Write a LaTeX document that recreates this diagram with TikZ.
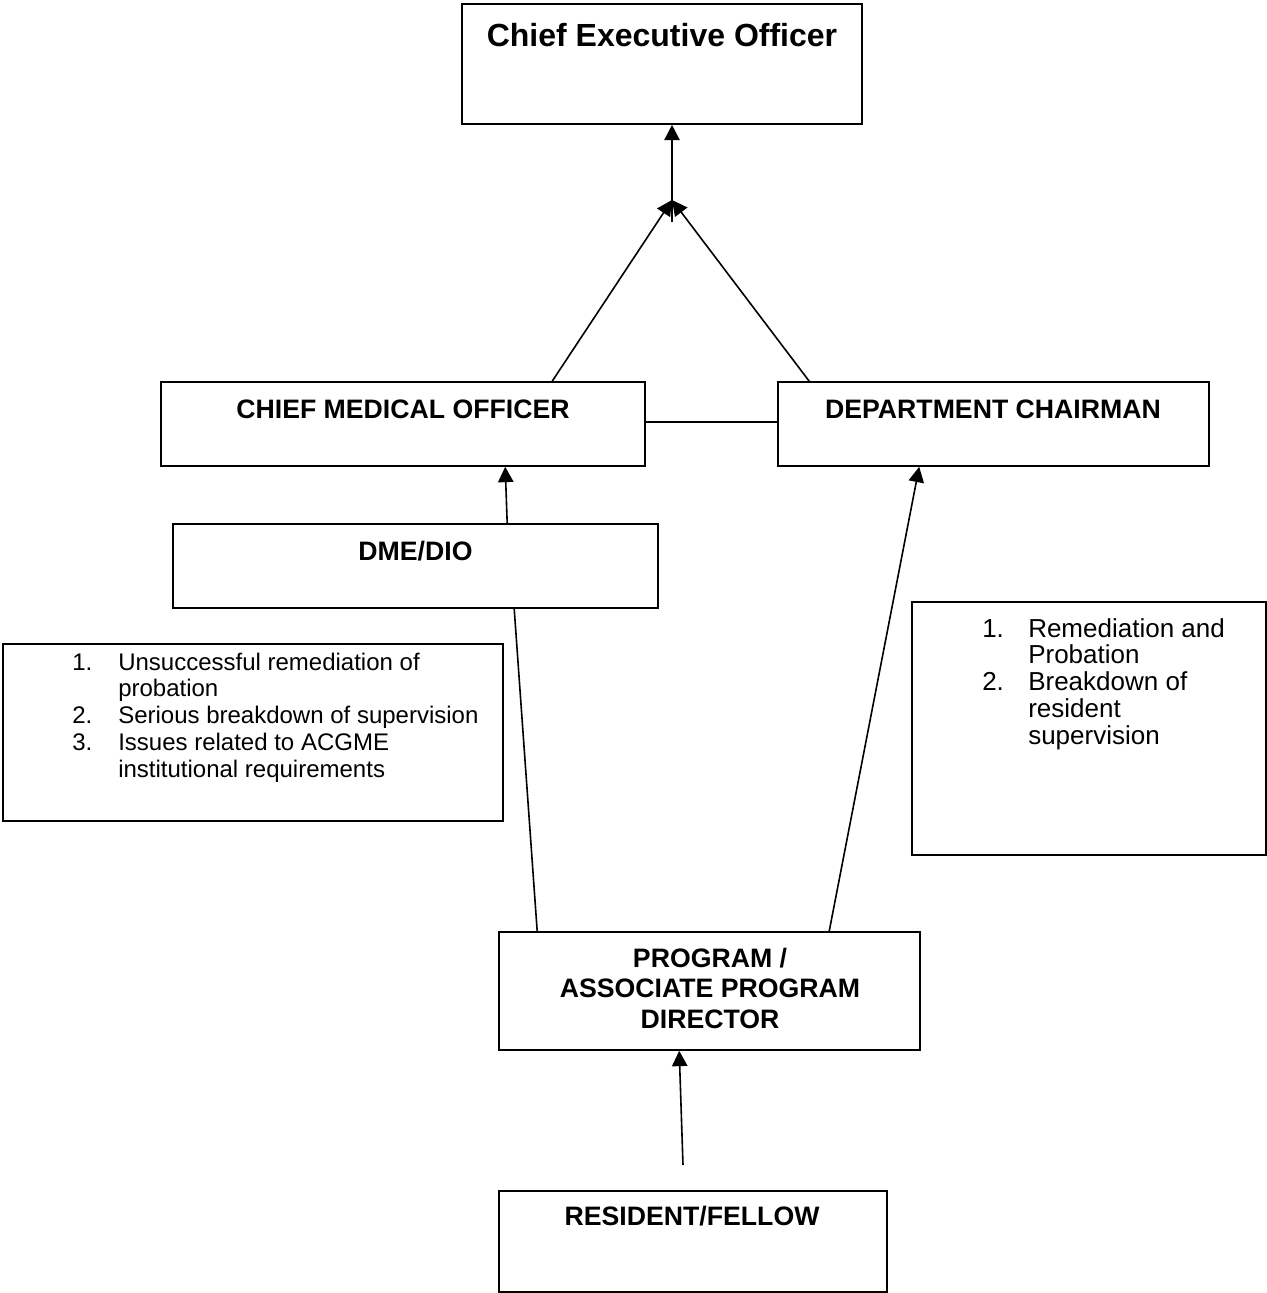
\documentclass[tikz,border=0pt]{standalone}
\usepackage{fontspec}
\setmainfont{Liberation Sans}
\usetikzlibrary{arrows.meta,calc}
\tikzset{
  box/.style={draw, line width=1.2pt, rectangle, inner sep=0pt, fill=white},
  lbl/.style={anchor=base, inner sep=0pt, font=\fontsize{20}{22}\selectfont\bfseries},
  conn/.style={line width=1.2pt},
  arr/.style={line width=1.2pt, -{Triangle[length=11.5pt,width=11.5pt]}},
  listtxt/.style={anchor=base west, inner sep=0pt, align=left}
}
\begin{document}
\begin{tikzpicture}[x=0.75pt,y=-0.75pt]
\useasboundingbox (0,0) rectangle (1267,1293);
% boxes
\node[box, minimum width=300pt, minimum height=90pt] (ceo) at (662,64) {};
\node[box, minimum width=363pt, minimum height=63pt] (cmo) at (403,424) {};
\node[box, minimum width=323.25pt, minimum height=63pt] (dc) at (993.5,424) {};
\node[box, minimum width=363.75pt, minimum height=63pt] (dme) at (415.5,566) {};
\node[box, minimum width=375pt, minimum height=132.75pt] (lst) at (253,732.5) {};
\node[box, minimum width=265.5pt, minimum height=189.75pt] (rst) at (1089,728.5) {};
\node[box, minimum width=315.75pt, minimum height=88.5pt] (pd) at (709.5,991) {};
\node[box, minimum width=291pt, minimum height=75.75pt] (rf) at (693,1241.5) {};
% labels
\node[lbl, font=\fontsize{24}{28}\selectfont\bfseries] (ceot) at (662,46) {Chief Executive Officer};
\node[lbl] (cmot) at (403,418) {CHIEF MEDICAL OFFICER};
\node[lbl] (dct) at (993,418) {DEPARTMENT CHAIRMAN};
\node[lbl] (dmet) at (415.5,560) {DME/DIO};
\node[lbl, font=\fontsize{20}{23.2}\selectfont\bfseries] (pdt) at (710,967)
  {\begin{tabular}[t]{@{}c@{}}PROGRAM /\\ ASSOCIATE PROGRAM\\ DIRECTOR\end{tabular}};
\node[lbl] (rft) at (692,1225) {RESIDENT/FELLOW};
\node[listtxt, font=\fontsize{18}{20.2}\selectfont] (lstt) at (72,670)
  {\begin{tabular}[t]{@{}l@{}}\makebox[34.5pt][l]{1.}Unsuccessful remediation of\\
   \hspace*{34.5pt}probation\\
   \makebox[34.5pt][l]{2.}Serious breakdown of supervision\\
   \makebox[34.5pt][l]{3.}Issues related to ACGME\\
   \hspace*{34.5pt}institutional requirements\end{tabular}};
\node[listtxt, font=\fontsize{19.5}{19.9}\selectfont] (rstt) at (982,637)
  {\begin{tabular}[t]{@{}l@{}}\makebox[34.5pt][l]{1.}Remediation and\\
   \hspace*{34.5pt}Probation\\
   \makebox[34.5pt][l]{2.}Breakdown of\\
   \hspace*{34.5pt}resident\\
   \hspace*{34.5pt}supervision\end{tabular}};
% connectors
\coordinate (meet) at (672,200);
\coordinate (stem) at (672,222);
\coordinate (rftop) at (683,1165);
\draw[arr] (stem) -- (stem |- ceo.south);
\draw[arr] ($(cmo.north west)+(392,0)$) -- (meet);
\draw[arr] ($(dc.north west)+(32,0)$) -- (meet);
\draw[conn] ($(cmo.east)+(0,-2)$) -- ($(dc.west)+(0,-2)$);
\draw[arr] ($(dme.north west)+(335,0)$) -- ($(cmo.south west)+(345,0)$);
\draw[conn] ($(pd.north west)+(39,0)$) -- ($(dme.south west)+(342,0)$);
\draw[arr] ($(pd.north west)+(331,0)$) -- ($(dc.south west)+(142,0)$);
\draw[arr] (rftop) -- ($(pd.south west)+(181,0)$);
\end{tikzpicture}
\end{document}
